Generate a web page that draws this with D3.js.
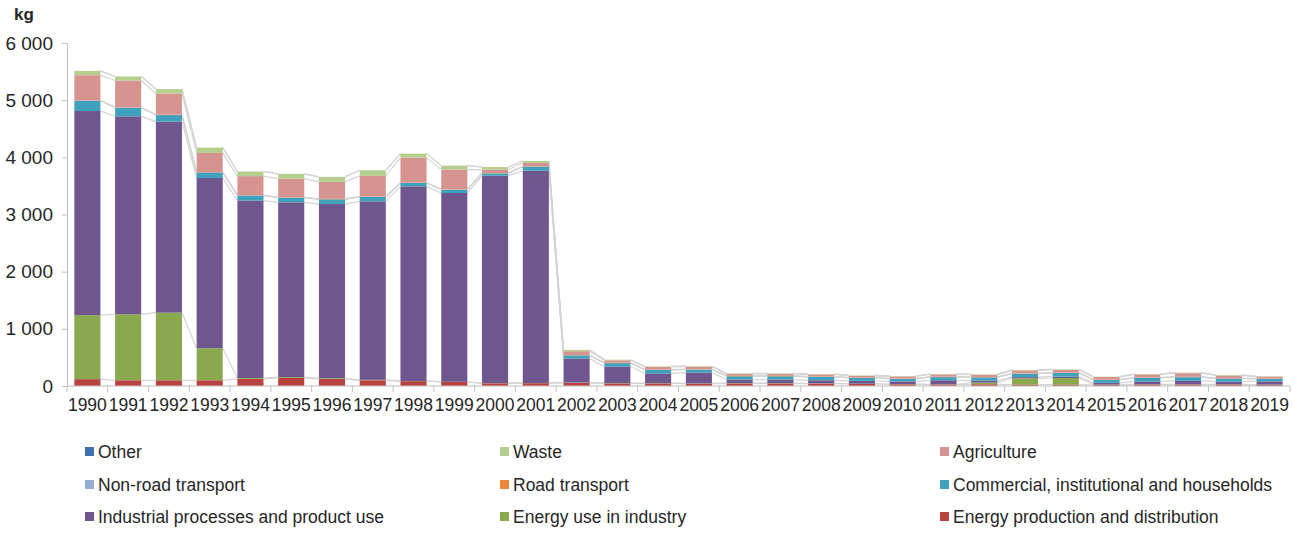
<!DOCTYPE html>
<html>
<head>
<meta charset="utf-8">
<script src="https://cdn.jsdelivr.net/npm/d3@7"></script>
<style>
  body { margin: 0; background: #fff; }
  svg text { font-family: "Liberation Sans", Arial, sans-serif; fill: #262626; }
</style>
</head>
<body>
<svg id="chart" width="1293" height="534"></svg>
<script>
var years = ["1990","1991","1992","1993","1994","1995","1996","1997","1998","1999",
             "2000","2001","2002","2003","2004","2005","2006","2007","2008","2009",
             "2010","2011","2012","2013","2014","2015","2016","2017","2018","2019"];

// stacking order, bottom to top
var seriesNames = ["Energy production and distribution", "Energy use in industry",
  "Industrial processes and product use", "Commercial, institutional and households",
  "Road transport", "Non-road transport", "Agriculture", "Waste", "Other"];

var energyProduction = [120,100,100,100,125,140,125,100,85,70, 47,50,55,45,45,40,45,45,40,35, 30,25,30,25,25,20,25,25,25,20];
var energyIndustry   = [1120,1154,1183,560,15,15,10,8,3,3, 3,3,5,5,5,5,5,5,5,5, 5,5,30,110,115,5,5,5,5,5];
var industrial       = [3570,3463,3341,2978,3105,3058,3048,3122,3405,3303, 3629,3713,420,290,170,190,60,60,55,50, 45,70,35,20,25,30,50,60,45,55];
var commercial       = [180,150,115,97,87,81,83,76,58,58, 40,70,55,60,60,50,60,60,60,50, 45,55,55,60,62,50,60,65,55,45];
var roadTransport    = [5,5,5,5,5,5,5,5,5,5, 5,5,5,5,5,5,5,5,5,5, 5,5,5,5,5,5,5,5,5,5];
var nonRoad          = [2,2,2,2,2,2,2,2,2,2, 2,2,2,2,2,2,2,2,2,2, 2,2,2,2,2,2,2,2,2,2];
var agriculture      = [440,470,370,335,332,327,297,362,437,344, 60,59,66,43,45,45,33,33,35,30, 35,40,40,50,50,45,55,63,47,32];
var waste            = [75,70,77,93,82,82,88,98,70,70, 45,35,22,10,10,10,10,10,8,8, 8,8,7,10,8,6,8,8,8,6];
var other            = [0,0,0,0,0,0,0,0,0,0, 0,0,0,0,0,0,0,0,0,0, 0,0,0,0,0,0,0,0,0,0];

var yTicks = [0,1000,2000,3000,4000,5000,6000];

var colors = ["#B8423F", "#8AA84E", "#6F568F", "#3FA1BC", "#E9863A", "#94AED3", "#D69491", "#B5CE8E", "#3F6FAE"];

var seriesValues = [energyProduction, energyIndustry, industrial, commercial,
                    roadTransport, nonRoad, agriculture, waste, other];

var table = years.map(function(y, i) {
  var row = {year: y};
  seriesNames.forEach(function(s, k) { row[s] = seriesValues[k][i]; });
  return row;
});

var stacked = d3.stack().keys(seriesNames)(table);

var svg = d3.select("#chart");
var plot = {left: 67, right: 1290, top: 43, bottom: 386};

var x = d3.scaleBand().domain(years).range([plot.left, plot.right]).paddingInner(0.36).paddingOuter(0.18);
var xb = d3.scaleBand().domain(years).range([plot.left, plot.right]);
var y = d3.scaleLinear().domain([0, 6000]).range([plot.bottom, plot.top]);

// series lines between bars
var lineG = svg.append("g");
stacked.forEach(function(layer) {
  for (var i = 0; i < layer.length - 1; i++) {
    lineG.append("line")
      .attr("x1", x(years[i]) + x.bandwidth())
      .attr("x2", x(years[i + 1]))
      .attr("y1", y(layer[i][1]))
      .attr("y2", y(layer[i + 1][1]))
      .attr("stroke", "#d4d4d4")
      .attr("stroke-width", 1.2);
  }
});

// bars
svg.append("g").selectAll("g")
  .data(stacked)
  .enter().append("g")
    .attr("fill", function(d, k) { return colors[k]; })
  .selectAll("rect")
  .data(function(d) { return d; })
  .enter().append("rect")
    .attr("x", function(d) { return x(d.data.year); })
    .attr("width", x.bandwidth())
    .attr("y", function(d) { return y(d[1]); })
    .attr("height", function(d) { return Math.max(0, y(d[0]) - y(d[1])); });

// y axis
var yAxis = svg.append("g")
  .attr("transform", "translate(" + plot.left + ",0)")
  .call(d3.axisLeft(y).tickValues(yTicks).tickSize(5).tickPadding(9)
    .tickFormat(function(d) { return d3.format(",")(d).replace(",", " "); }));
yAxis.select(".domain").attr("stroke", "#bfbfbf");
yAxis.selectAll(".tick line").attr("stroke", "#bfbfbf");
yAxis.selectAll("text").style("font-size", "19px").attr("fill", "#262626");

// x axis
var xAxisG = svg.append("g").attr("transform", "translate(0," + plot.bottom + ")");
xAxisG.append("line")
  .attr("x1", plot.left).attr("x2", plot.right)
  .attr("stroke", "#bfbfbf");
xAxisG.selectAll("line.tk")
  .data(years.concat(["end"]))
  .enter().append("line")
    .attr("class", "tk")
    .attr("x1", function(d, i) { return plot.left + i * xb.step(); })
    .attr("x2", function(d, i) { return plot.left + i * xb.step(); })
    .attr("y1", 0).attr("y2", 6)
    .attr("stroke", "#bfbfbf");
xAxisG.selectAll("text")
  .data(years)
  .enter().append("text")
    .attr("x", function(d) { return xb(d) + xb.bandwidth() / 2; })
    .attr("y", 25)
    .attr("text-anchor", "middle")
    .style("font-size", "17.5px")
    .text(function(d) { return d; });

svg.append("text")
  .attr("x", 14).attr("y", 20)
  .style("font-size", "17px")
  .style("font-weight", "bold")
  .text("kg");

// legend, Excel order (reverse of stacking), 3 columns
var legendOrder = seriesNames.slice().reverse();
var colX = [85, 500, 940];
var rowY = [452, 485, 517];
var leg = svg.append("g").selectAll("g")
  .data(legendOrder)
  .enter().append("g")
    .attr("transform", function(d, i) {
      return "translate(" + colX[i % 3] + "," + rowY[Math.floor(i / 3)] + ")";
    });
leg.append("rect")
  .attr("x", 0).attr("y", -5)
  .attr("width", 9).attr("height", 9)
  .attr("fill", function(d) { return colors[seriesNames.indexOf(d)]; });
leg.append("text")
  .attr("x", 13).attr("y", 0)
  .attr("dy", "0.35em")
  .style("font-size", "17.5px")
  .text(function(d) { return d; });
</script>
</body>
</html>
